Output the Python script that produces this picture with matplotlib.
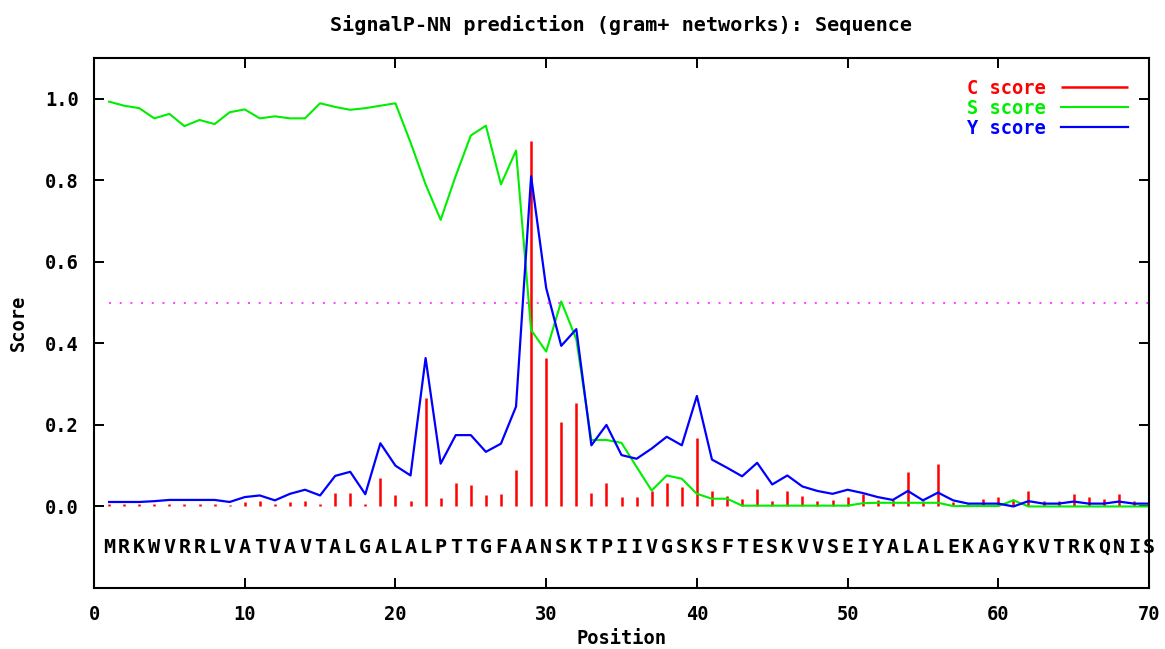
import numpy as np
import matplotlib.pyplot as plt

# SignalP-NN scores per residue
sequence = "MRKWVRRLVATVAVTALGALALPTTGFAANSKTPIIVGSKSFTESKVVSEIYALALEKAGYKVTRKQNIS"
positions = np.arange(1, len(sequence) + 1)

c_score = [0.007, 0.007, 0.007, 0.007, 0.007, 0.007, 0.007, 0.007, 0.004, 0.010,
           0.013, 0.005, 0.010, 0.013, 0.007, 0.033, 0.033, 0.006, 0.070, 0.027,
           0.013, 0.265, 0.021, 0.057, 0.052, 0.027, 0.031, 0.090, 0.897, 0.365,
           0.206, 0.255, 0.033, 0.057, 0.023, 0.023, 0.038, 0.057, 0.048, 0.167,
           0.039, 0.025, 0.019, 0.044, 0.013, 0.038, 0.025, 0.013, 0.015, 0.023,
           0.031, 0.015, 0.015, 0.085, 0.013, 0.105, 0.011, 0.005, 0.019, 0.023,
           0.019, 0.038, 0.013, 0.013, 0.031, 0.023, 0.019, 0.031, 0.013, 0.027]

s_score = [0.993, 0.983, 0.977, 0.952, 0.963, 0.933, 0.948, 0.938, 0.967, 0.974,
           0.952, 0.957, 0.952, 0.952, 0.989, 0.980, 0.973, 0.977, 0.983, 0.989,
           0.893, 0.790, 0.703, 0.811, 0.910, 0.934, 0.790, 0.873, 0.433, 0.380,
           0.503, 0.410, 0.163, 0.163, 0.156, 0.097, 0.039, 0.076, 0.068, 0.031,
           0.019, 0.019, 0.002, 0.002, 0.002, 0.002, 0.002, 0.002, 0.002, 0.002,
           0.008, 0.009, 0.009, 0.009, 0.009, 0.009, 0.001, 0.001, 0.001, 0.001,
           0.015, 0.000, 0.000, 0.000, 0.000, 0.000, 0.000, 0.000, 0.000, 0.000]

y_score = [0.011, 0.011, 0.011, 0.013, 0.016, 0.016, 0.016, 0.016, 0.011, 0.023,
           0.027, 0.015, 0.031, 0.041, 0.027, 0.075, 0.085, 0.030, 0.155, 0.100,
           0.076, 0.364, 0.105, 0.175, 0.175, 0.134, 0.154, 0.245, 0.810, 0.536,
           0.394, 0.435, 0.150, 0.200, 0.126, 0.117, 0.142, 0.171, 0.150, 0.271,
           0.115, 0.095, 0.074, 0.107, 0.054, 0.076, 0.049, 0.038, 0.031, 0.041,
           0.033, 0.023, 0.016, 0.038, 0.015, 0.034, 0.015, 0.007, 0.007, 0.007,
           0.000, 0.013, 0.007, 0.007, 0.012, 0.007, 0.007, 0.012, 0.007, 0.007]

cutoff = 0.5
x_ticks = np.arange(0, 71, 10)
y_ticks = np.arange(0, 1.01, 0.2)

RED, GREEN, BLUE = '#ff0000', '#00ee00', '#0000ff'
plt.rcParams['font.family'] = 'DejaVu Sans Mono'
plt.rcParams['font.weight'] = 'bold'
plt.rcParams['axes.labelweight'] = 'bold'

fig = plt.figure(figsize=(11.65, 6.49), dpi=100)
ax = fig.add_axes([0.0807, 0.094, 0.9056, 0.8166])

ax.vlines(positions, 0, c_score, colors=RED, linewidth=1.8, label='C score')
ax.plot(positions, s_score, color=GREEN, linewidth=1.5, label='S score')
ax.plot(positions, y_score, color=BLUE, linewidth=1.6, label='Y score')
ax.plot([positions[0], positions[-1]], [cutoff, cutoff], color='#ff40ff',
        linewidth=1.4, linestyle=(0, (1, 4.5)))

for p, aa in zip(positions, sequence):
    ax.text(p, -0.1, aa, ha='center', va='center', fontsize=14.5,
            fontweight='bold', color='black')

ax.set_xlim(0, 70)
ax.set_ylim(-0.2, 1.1)
ax.set_xticks(x_ticks)
ax.set_yticks(y_ticks)
ax.set_yticklabels(['%.1f' % v for v in y_ticks])
ax.tick_params(direction='in', length=7, width=1.4, labelsize=13.5,
               top=True, right=True, pad=11)
ax.tick_params(axis='x', pad=12)
for sp in ax.spines.values():
    sp.set_linewidth(1.5)

ax.set_xlabel('Position', fontsize=13.5, labelpad=4)
ax.set_ylabel('Score', fontsize=13.5, labelpad=12)
fig.text(0.533, 1 - 25 / 649, 'SignalP-NN prediction (gram+ networks): Sequence',
         ha='center', va='center', fontsize=14.5)

ax.legend(loc='upper right', frameon=False, markerfirst=False,
          labelcolor=[RED, GREEN, BLUE], fontsize=13.5, handlelength=3.6,
          handletextpad=0.8, labelspacing=0.05, borderaxespad=0.7, borderpad=0.4)

fig.savefig('out.png', dpi=100)
